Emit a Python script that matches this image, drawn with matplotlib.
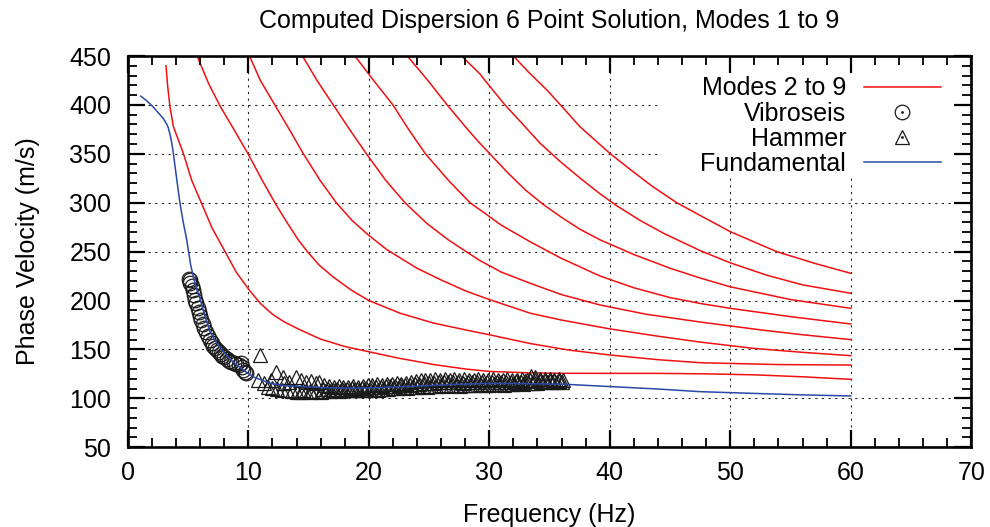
import matplotlib
matplotlib.use("Agg")
import matplotlib.pyplot as plt
from matplotlib.lines import Line2D
from matplotlib.patches import Rectangle
from matplotlib.ticker import MultipleLocator

plt.rcParams["font.family"] = ["Liberation Sans", "DejaVu Sans"]

# higher modes (2..9): (frequency Hz, phase velocity m/s)
mode2_f = [3.17, 3.3, 3.5, 3.78, 4.2, 4.61, 5.3, 6.13, 7.0, 8.07, 9.0, 10.06, 11.0, 12.0, 13.0, 14.3, 16.0, 18.0, 20.0, 22.5, 25.4, 28.0, 30.0, 33.4, 36.0, 40.0, 44.0, 48.0, 52.0, 56.0, 60.0]
mode2_v = [440, 420, 398, 378, 364, 350.5, 323, 299, 274, 250, 229, 211, 197, 186, 178, 170, 160.5, 153, 147.6, 141, 134.5, 130, 127.5, 126, 125.6, 125.5, 125.5, 125, 124, 122, 119.4]
mode3_f = [5.75, 6.7, 7.65, 8.8, 10.0, 11.15, 12.25, 13.25, 14.15, 14.9, 15.9, 17.05, 18.5, 20.0, 22.6, 25.35, 28.0, 30.0, 33.4, 36.5, 40.0, 44.0, 47.5, 54.0, 60.0]
mode3_v = [450, 422, 399, 375, 349.5, 323, 299, 279, 262, 250, 236, 224, 211, 200, 187, 177, 170, 165, 156, 149.5, 144.3, 139.5, 136.4, 134.5, 134]
mode4_f = [10.1, 11.0, 12.2, 13.4, 14.57, 15.95, 17.3, 18.6, 19.96, 21.5, 24.0, 26.0, 28.0, 30.0, 33.4, 36.0, 40.0, 44.0, 47.5, 52.0, 56.0, 60.0]
mode4_v = [450, 425, 400, 375, 350, 323, 300, 282, 267, 252, 233, 221, 210, 201, 187, 180, 171, 163.5, 157.5, 151, 147, 143.6]
mode5_f = [14.5, 15.7, 17.05, 18.4, 19.8, 21.4, 23.0, 24.8, 26.6, 29.2, 31.0, 33.4, 36.0, 39.2, 43.0, 47.5, 52.5, 56.0, 60.0]
mode5_v = [450, 425, 400, 375, 350, 323, 300, 279, 262, 241, 229, 217.6, 206, 195.4, 186, 178, 170, 165, 160]
mode6_f = [18.85, 20.4, 22.0, 23.3, 24.7, 26.6, 28.4, 29.2, 31.0, 33.4, 36.0, 39.2, 42.0, 45.0, 47.5, 50.0, 55.0, 60.0]
mode6_v = [450, 425, 400, 375, 350, 323, 300, 293, 277, 260, 243, 225, 213, 203, 197, 192, 183.5, 176]
mode7_f = [23.2, 24.9, 26.5, 28.2, 29.2, 30.05, 31.5, 33.0, 34.5, 36.0, 37.5, 39.2, 42.0, 45.0, 47.5, 50.0, 55.0, 60.0]
mode7_v = [450, 425, 400, 375, 361, 350, 331, 313, 298, 285, 273, 262, 247, 233, 223, 214, 201, 192]
mode8_f = [27.7, 29.2, 30.3, 31.3, 32.8, 34.2, 35.8, 37.5, 39.2, 40.5, 42.5, 44.5, 47.5, 50.0, 53.0, 56.0, 60.0]
mode8_v = [450, 432, 415, 400, 380, 361, 343, 325.5, 309, 297.5, 282, 268.5, 251, 238.5, 226, 216, 207.4]
mode9_f = [32.0, 33.3, 34.8, 36.2, 37.5, 40.0, 41.8, 43.5, 45.55, 47.8, 50.0, 53.85, 57.0, 60.0]
mode9_v = [450, 433, 415, 396, 378, 350.5, 333, 317, 300, 285, 270.4, 250, 238, 227.8]

# fundamental mode
fund_f = [1.07, 1.5, 2.1, 2.6, 2.95, 3.2, 3.35, 3.52, 3.66, 3.78, 4.05, 4.33, 4.6, 4.89, 5.22, 5.6, 5.99, 6.4, 6.82, 7.35, 7.93, 8.5, 9.04, 9.7, 10.4, 11.8, 13.0, 14.56, 16.5, 18.7, 21.0, 24.0, 27.0, 30.1, 33.0, 36.4, 40.0, 44.0, 47.5, 52.0, 56.0, 60.0]
fund_v = [409, 405, 398, 391, 386, 381, 377, 369, 360, 350.5, 325, 299.4, 280, 262, 236, 216, 202, 184, 168, 157, 147.6, 140, 134, 128, 122, 115.3, 113, 111.9, 110.8, 110.2, 111, 112.5, 114.2, 115.3, 115, 114.3, 112, 109.5, 106.8, 105, 103.5, 102.4]

# measured: vibroseis
vib_f = [5.05, 5.15, 5.2, 5.3, 5.4, 5.5, 5.6, 5.7, 5.8, 5.9, 6.0, 6.1, 6.2, 6.35, 6.5, 6.65, 6.8, 6.95, 7.1, 7.25, 7.4, 7.55, 7.7, 7.85, 8.0, 8.2, 8.4, 8.6, 8.8, 9.0, 9.2, 9.4, 9.5, 9.6, 9.7, 9.8]
vib_v = [222, 221, 218, 215, 211, 206, 201, 197, 192, 188, 184, 180, 176, 172, 168, 164, 160, 157, 154, 151, 149, 147, 145, 143, 142, 140, 138, 137, 136, 135, 134, 136, 132, 129, 127, 126]

# measured: hammer
ham_f = [10.97, 10.8, 11.3, 11.9, 12.3, 12.85, 13.4, 13.96, 14.5, 15.1,
         13.0, 14.4, 14.8, 15.2, 15.6, 15.9, 16.3, 16.7, 17.1, 17.5, 17.9, 18.3, 18.7, 19.1, 19.5, 19.9,
         20.3, 20.7, 21.1, 21.5, 21.9, 22.3, 22.7, 23.1, 23.5, 23.9, 24.3, 24.7, 25.1, 25.5, 25.9,
         26.3, 26.7, 27.1, 27.5, 27.9, 28.3, 28.7, 29.1, 29.5, 29.9, 30.3, 30.7, 31.1, 31.5, 31.9,
         32.3, 32.7, 33.1, 33.5, 33.8, 34.2, 34.6, 35.0, 35.4, 35.8, 36.1,
         16.2, 16.6, 17.0, 17.4, 17.8, 18.2, 18.6, 19.0, 19.4, 19.8, 20.2, 20.6, 21.0, 21.4, 21.8,
         22.2, 22.6, 23.0, 23.4, 23.8, 24.2, 24.6, 25.0, 25.4, 25.8, 26.2, 26.6, 27.0, 27.4, 27.8,
         28.2, 28.6, 29.0, 29.4, 29.8, 30.2, 30.6, 31.0, 31.4, 31.8, 32.2, 32.6, 33.0, 33.4, 33.8,
         34.2, 34.6, 35.0, 35.4, 35.8,
         11.6, 12.0, 12.4, 12.8, 13.2, 13.6, 14.0, 14.4, 14.8, 15.2, 15.6, 16.0, 16.4, 16.8, 17.2,
         17.6, 18.0, 18.4, 18.8, 19.2, 19.6, 20.0, 20.4, 20.8, 21.2, 21.6, 22.0, 22.4, 22.8, 23.2,
         23.6, 24.0, 24.4, 24.8, 25.2, 25.6, 26.0, 26.4, 26.8, 27.2, 27.6, 28.0, 28.4, 28.8, 29.2,
         29.6, 30.0, 30.4, 30.8, 31.2, 31.6, 32.0, 32.4, 32.8, 33.2, 33.6, 34.0, 34.4, 34.8, 35.2,
         35.6, 36.0]
ham_v = [144.3, 118.7, 115.3, 119, 127, 122, 117, 122, 108.5, 107,
         116, 119, 117, 118, 116, 117, 114, 113, 112, 113, 112, 112, 113, 112, 113, 114,
         114, 115, 114, 115, 115, 116, 115, 116, 117, 118, 119, 119, 119, 120, 119,
         120, 119, 120, 119, 120, 119, 119, 120, 119, 119, 120, 119, 119, 120, 119,
         119, 120, 119, 123, 122, 120, 120, 120, 119, 120, 119,
         110, 110, 109, 110, 110, 110, 111, 110, 111, 111, 112, 112, 112, 113, 113,
         113, 114, 114, 114, 115, 115, 116, 116, 116, 117, 117, 117, 117, 117, 116,
         117, 117, 117, 117, 117, 117, 117, 117, 117, 117, 118, 117, 118, 119, 119,
         118, 118, 118, 118, 118,
         112, 111, 110, 109, 108, 107, 106, 106, 107, 106, 107, 106, 107, 107, 108,
         107, 108, 108, 108, 109, 108, 109, 110, 109, 110, 110, 111, 111, 112, 111,
         112, 112, 113, 112, 113, 113, 114, 113, 114, 114, 113, 114, 114, 114, 115,
         114, 114, 115, 115, 114, 115, 115, 116, 115, 116, 116, 116, 117, 117, 117,
         117, 117]

RED = "#f01010"
BLUE = "#2a48a8"
INK = "#1a1a1a"
FS = 18

fig = plt.figure(figsize=(9.9, 5.27), dpi=100)
rect = [0.1291, 0.1514, 0.852, 0.7423]
ax = fig.add_axes(rect)
ax.set_xlim(0, 70)
ax.set_ylim(50, 450)
ax.xaxis.set_major_locator(MultipleLocator(10))
ax.yaxis.set_major_locator(MultipleLocator(50))
ax.tick_params(length=0, labelbottom=False, labelleft=False)
ax.grid(True, color="k", ls=(0, (2, 4)), lw=0.8, alpha=0.85)
for s in ax.spines.values():
    s.set_visible(False)
# key box hides the grid behind it
ax.add_patch(Rectangle((0.633, 0.688), 0.367, 0.312, transform=ax.transAxes,
                       fc="white", ec="none", zorder=1.8))

modes = [(mode2_f, mode2_v), (mode3_f, mode3_v), (mode4_f, mode4_v), (mode5_f, mode5_v),
         (mode6_f, mode6_v), (mode7_f, mode7_v), (mode8_f, mode8_v), (mode9_f, mode9_v)]
for f, v in modes:
    ax.plot(f, v, color=RED, lw=1.1, zorder=3, solid_joinstyle="round")
ax.plot(fund_f, fund_v, color=BLUE, lw=1.1, zorder=4, solid_joinstyle="round")
ax.plot(vib_f, vib_v, ls="none", marker="o", ms=10.5, mfc="none", mec=INK, mew=0.9, zorder=3.5)
ax.plot(ham_f, ham_v, ls="none", marker="^", ms=10, mfc="none", mec=INK, mew=0.9, zorder=3.5)

dot = dict(ls="none", marker=".", ms=2, color=INK)
handles = [
    Line2D([], [], color=RED, lw=1.1),
    (Line2D([], [], ls="none", marker="o", ms=10.5, mfc="none", mec=INK, mew=0.9), Line2D([], [], **dot)),
    (Line2D([], [], ls="none", marker="^", ms=10, mfc="none", mec=INK, mew=0.9), Line2D([], [], **dot)),
    Line2D([], [], color=BLUE, lw=1.1),
]
labels = ["Modes 2 to 9", "Vibroseis", "Hammer", "Fundamental"]
ax.legend(handles, labels, loc="upper right", bbox_to_anchor=(0.985, 0.993),
          frameon=False, markerfirst=False, fontsize=FS, handlelength=3.1,
          handletextpad=0.7, labelspacing=0.05, borderpad=0.2)

# frame and ticks on top
ax2 = fig.add_axes(rect)
ax2.patch.set_visible(False)
ax2.set_xlim(0, 70)
ax2.set_ylim(50, 450)
ax2.xaxis.set_major_locator(MultipleLocator(10))
ax2.xaxis.set_minor_locator(MultipleLocator(2))
ax2.yaxis.set_major_locator(MultipleLocator(50))
ax2.yaxis.set_minor_locator(MultipleLocator(10))
ax2.tick_params(which="both", direction="in", top=True, right=True, labelsize=FS, colors="k")
ax2.tick_params(which="major", length=12, width=1.6)
ax2.tick_params(which="minor", length=6.5, width=1.3)
ax2.tick_params(axis="x", pad=10)
ax2.tick_params(axis="y", pad=12)
for s in ax2.spines.values():
    s.set_linewidth(1.9)
ax2.set_xlabel("Frequency (Hz)", fontsize=FS, labelpad=13)
ax2.set_ylabel("Phase Velocity (m/s)", fontsize=FS, labelpad=21)
ax2.set_title("Computed Dispersion 6 Point Solution, Modes 1 to 9", fontsize=FS, pad=20)

fig.savefig("out.png", dpi=100)
